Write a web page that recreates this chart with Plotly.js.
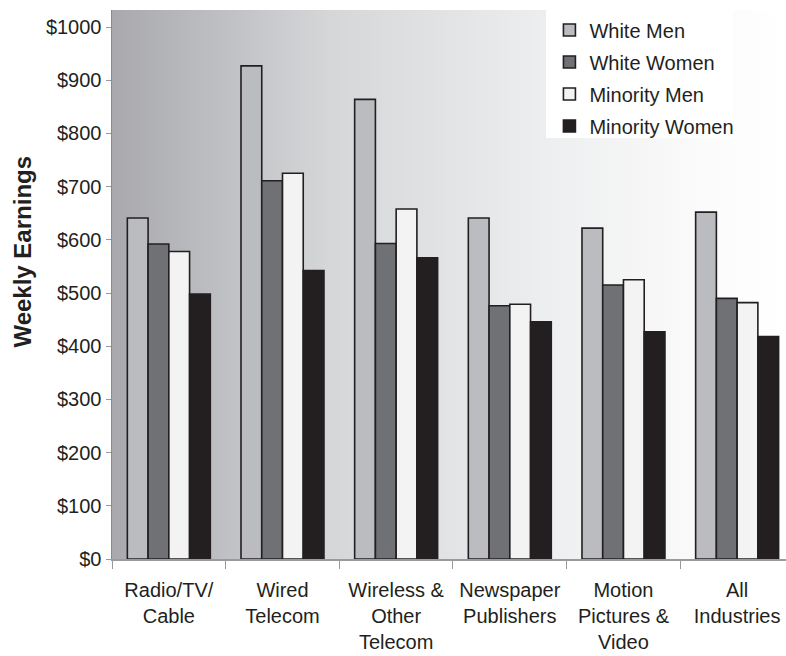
<!DOCTYPE html>
<html>
<head>
<meta charset="utf-8">
<script src="https://cdn.plot.ly/plotly-3.0.1.min.js"></script>
<style>html,body{margin:0;padding:0;background:#fff;}#chart{width:786px;height:656px;}</style>
</head>
<body>
<div id="chart"></div>
<script>
var categories = ["Radio/TV/<br>Cable", "Wired<br>Telecom", "Wireless &<br>Other<br>Telecom", "Newspaper<br>Publishers", "Motion<br>Pictures &<br>Video", "All<br>Industries"];
var whiteMen = [641, 927, 864, 641, 622, 652];
var whiteWomen = [592, 711, 593, 476, 515, 490];
var minorityMen = [578, 725, 658, 479, 525, 482];
var minorityWomen = [498, 542, 566, 446, 427, 418];
var seriesNames = ["White Men", "White Women", "Minority Men", "Minority Women"];
var seriesColors = ["#bbbcbf", "#707174", "#f3f3f3", "#231f20"];
var yTicks = [0, 100, 200, 300, 400, 500, 600, 700, 800, 900, 1000];

function gradientURL() {
  var c = document.createElement('canvas');
  c.width = 674; c.height = 549;
  var ctx = c.getContext('2d');
  var g = ctx.createLinearGradient(0, 0, 674, 0);
  g.addColorStop(0, '#a9a9ad');
  g.addColorStop(0.13, '#babbbe');
  g.addColorStop(0.32, '#d5d6d8');
  g.addColorStop(0.66, '#eeeff0');
  g.addColorStop(0.88, '#fbfbfb');
  g.addColorStop(1, '#ffffff');
  ctx.fillStyle = g;
  ctx.fillRect(0, 0, 674, 549);
  return c.toDataURL('image/png');
}

var allValues = [whiteMen, whiteWomen, minorityMen, minorityWomen];
var traces = allValues.map(function (vals, i) {
  return {
    type: 'bar',
    name: seriesNames[i],
    legendgroup: 'g' + i,
    x: categories,
    y: vals,
    marker: { color: seriesColors[i], line: { color: '#231f20', width: 1.6 } },
    hoverinfo: 'y'
  };
});

var font = 'Arial, "Liberation Sans", sans-serif';
var layout = {
  width: 786, height: 656,
  margin: { l: 112, r: 0, t: 10, b: 97, pad: 0 },
  paper_bgcolor: '#ffffff',
  plot_bgcolor: 'rgba(0,0,0,0)',
  barmode: 'group',
  bargap: 0.27,
  bargroupgap: 0,
  font: { family: font, size: 20, color: '#231f20' },
  showlegend: true,
  legend: {
    x: 0.649, y: 0.999, xanchor: 'left', yanchor: 'top',
    bgcolor: 'rgba(0,0,0,0)', borderwidth: 0,
    font: { family: font, size: 20, color: '#231f20' },
    traceorder: 'grouped',
    tracegroupgap: 3,
    itemwidth: 30
  },
  xaxis: {
    type: 'category',
    range: [-0.5, 5.43],
    showgrid: false,
    zeroline: false,
    showline: true, linecolor: '#9a9a9a', linewidth: 1.5,
    ticks: 'outside', tickson: 'boundaries', ticklen: 8, tickcolor: '#9a9a9a', tickwidth: 1,
    ticklabelstandoff: 12,
    tickfont: { family: font, size: 20, color: '#231f20' },
    fixedrange: true
  },
  yaxis: {
    range: [0, 1032],
    tickvals: yTicks,
    ticktext: yTicks.map(function (v) { return '$' + v; }),
    showgrid: false,
    zeroline: false,
    showline: true, linecolor: '#8a8a8a', linewidth: 1.5,
    ticks: 'outside', ticklen: 5, tickcolor: '#9a9a9a', tickwidth: 1,
    tickfont: { family: font, size: 20, color: '#231f20' },
    fixedrange: true
  },
  images: [{
    source: gradientURL(),
    xref: 'paper', yref: 'paper',
    x: 0, y: 1, sizex: 1, sizey: 1,
    sizing: 'stretch', layer: 'below',
    xanchor: 'left', yanchor: 'top'
  }],
  shapes: [{
    type: 'rect', xref: 'paper', yref: 'paper',
    x0: 0.644, x1: 0.921, y0: 0.767, y1: 1.011,
    fillcolor: '#ffffff', line: { width: 0 }, layer: 'below'
  }],
  annotations: [{
    text: '<b>Weekly Earnings</b>',
    xref: 'paper', yref: 'paper',
    x: -0.132, y: 0.56, xanchor: 'center', yanchor: 'middle',
    textangle: -90, showarrow: false,
    font: { family: font, size: 24, color: '#231f20' }
  }]
};

Plotly.newPlot('chart', traces, layout, { displayModeBar: false, staticPlot: true });
</script>
</body>
</html>
